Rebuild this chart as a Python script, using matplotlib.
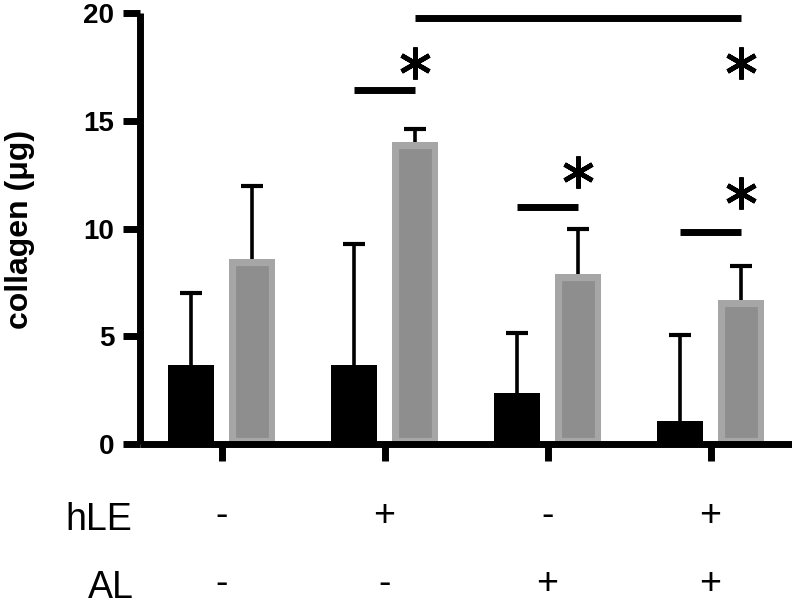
import numpy as np
import matplotlib
matplotlib.use("Agg")
import matplotlib.pyplot as plt
import matplotlib.transforms as mtransforms

# --- data
groups = [0, 1, 2, 3]
black_vals = [3.68, 3.68, 2.38, 1.08]
black_err = [3.32, 5.63, 2.77, 4.00]
gray_vals = [8.60, 14.03, 7.92, 6.68]
gray_err = [3.38, 0.58, 2.08, 1.58]
hle_signs = ['-', '+', '-', '+']
al_signs = ['-', '-', '+', '+']
yticks = [0, 5, 10, 15, 20]
ytick_labels = ['0', '5', '10', '15', '20']

# significance bars: (x start, x end, y) and asterisks (x, y)
sig_lines = [(1 - 0.187, 1 + 0.187, 16.41),
             (2 - 0.187, 2 + 0.187, 11.02),
             (3 - 0.187, 3 + 0.187, 9.84),
             (1 + 0.187, 3 + 0.187, 19.77)]
stars_x = [1 + 0.187, 2 + 0.187, 3 + 0.187, 3 + 0.187]
stars_y = [17.69, 12.64, 11.64, 17.69]

off = 0.187
width = 0.28

plt.rcParams['font.family'] = ['Liberation Sans', 'DejaVu Sans']
plt.rcParams['ytick.labelsize'] = 20

fig = plt.figure(figsize=(7.92, 6.08), dpi=100)
ax = fig.add_axes([140 / 792, 1 - 444.3 / 608, 1 - 140 / 792, (444.3 - 13) / 608])

x = np.array(groups, dtype=float)
ax.bar(x - off, black_vals, width, color='black', zorder=2)
gbars = ax.bar(x + off, gray_vals, width, color='#8e8e8e', edgecolor='#a6a6a6',
               linewidth=9.5, zorder=2)
for p in gbars:
    p.set_clip_path(p)

for xs, vals, errs in [(x - off, black_vals, black_err), (x + off, gray_vals, gray_err)]:
    eb = ax.errorbar(xs, vals, yerr=[np.zeros(4), errs], fmt='none',
                     ecolor='black', elinewidth=2.6, capsize=8, capthick=3, zorder=3)
    eb[1][0].set_visible(False)   # no cap at the bar top

for x0, x1, y in sig_lines:
    ax.plot([x0, x1], [y, y], color='black', lw=5, solid_capstyle='butt',
            clip_on=False, zorder=4)
ax.plot(stars_x, stars_y, ls='none', marker=(6, 2, 0), ms=23, mew=3.4,
        color='black', clip_on=False, zorder=4)

ax.set_xlim(-0.5, 3.5)
ax.set_ylim(0, 20)
ax.set_yticks(yticks, labels=ytick_labels, fontsize=20, fontweight='bold')
ax.set_xticks(groups, labels=[])
ax.tick_params(axis='both', width=5, length=12.5, color='black')
ax.tick_params(axis='y', pad=6, labelsize=20)
for s in ['top', 'right']:
    ax.spines[s].set_visible(False)
for s in ['left', 'bottom']:
    ax.spines[s].set_linewidth(5)
    ax.spines[s].set_capstyle('butt')

fig.text(20 / 792, 1 - 229 / 608, 'collagen (\u03bcg)', rotation=90, ha='center',
         va='center', fontsize=23, fontweight='bold')

row_font = ['Liberation Sans Narrow', 'Liberation Sans', 'DejaVu Sans']
fig.text(99 / 792, 1 - 530 / 608, 'hLE', ha='center', va='baseline',
         fontsize=27, family=row_font)
fig.text(111 / 792, 1 - 598 / 608, 'AL', ha='center', va='baseline',
         fontsize=27, family=row_font)
trans = mtransforms.blended_transform_factory(ax.transData, fig.transFigure)
for g, s in zip(groups, hle_signs):
    ax.text(g, 1 - 526 / 608, s, transform=trans, ha='center', va='baseline',
            fontsize=27, family=row_font)
for g, s in zip(groups, al_signs):
    ax.text(g, 1 - 594 / 608, s, transform=trans, ha='center', va='baseline',
            fontsize=27, family=row_font)

fig.canvas.draw()
for lbl in ax.get_yticklabels():
    lbl.set_fontsize(20)
    lbl.set_fontweight('bold')

fig.savefig('out.png', dpi=100)
